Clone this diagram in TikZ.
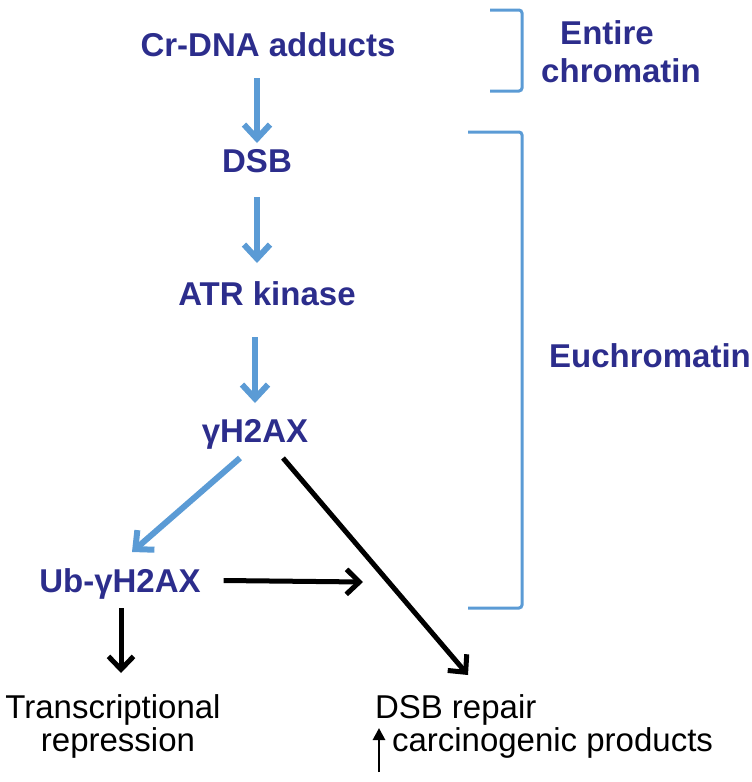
\documentclass[tikz,border=0pt]{standalone}
\usepackage{fontspec}
\setmainfont{Liberation Sans}
\usetikzlibrary{arrows.meta}
\definecolor{txtblue}{RGB}{44,45,140}
\definecolor{arrblue}{RGB}{91,155,213}
\begin{document}
\begin{tikzpicture}[x=1pt,y=-1pt,
  lbl/.style={inner sep=0pt, outer sep=0pt, text height=23pt, text depth=0pt,
    font=\bfseries\fontsize{33}{36}\selectfont, text=txtblue},
  plain/.style={inner sep=0pt, outer sep=0pt, text height=24pt, text depth=0pt,
    font=\fontsize{33}{38}\selectfont, text=black},
  bluearr/.style={draw=arrblue, line width=6pt, -{Straight Barb[length=14pt,width=26pt]}},
  blackarr/.style={draw=black, line width=5pt, -{Straight Barb[length=13pt,width=25pt]}},
  uparr/.style={draw=black, line width=2.8pt, -{Triangle[length=12pt,width=12pt]}},
  brack/.style={draw=arrblue, line width=3pt, rounded corners=3pt}]
\useasboundingbox (0,0) rectangle (752,782);

% main chain
\node[lbl, anchor=base] (cr)  at (268,56)  {Cr-DNA adducts};
\node[lbl, anchor=base] (dsb) at (257,172) {DSB};
\node[lbl, anchor=base] (atr) at (267,305) {ATR kinase};
\node[lbl, anchor=base] (gh)  at (255,442) {γH2AX};
\node[lbl, anchor=base] (ub)  at (120,592) {Ub-γH2AX};

% right labels
\node[lbl, anchor=base] (ent1) at (607,44)  {Entire};
\node[lbl, anchor=base] (ent2) at (621,82)  {chromatin};
\node[lbl, anchor=base] (euc)  at (650,367) {Euchromatin};

% outcome labels
\node[plain, anchor=base] (tr1) at (113,718) {Transcriptional};
\node[plain, anchor=base] (tr2) at (118,751) {repression};
\node[plain, anchor=base west] (dsbr) at (375,718) {DSB repair};
\node[plain, anchor=base west] (carc) at (392,751) {carcinogenic products};

\coordinate (hend) at (363,582);

% blue arrows
\draw[bluearr, shorten <=22pt, shorten >=6pt] (cr.south -| dsb.north) -- (dsb.north);
\draw[bluearr, shorten <=25pt, shorten >=19pt] (dsb.south) -- (dsb.south |- atr.north);
\draw[bluearr, shorten <=32pt, shorten >=16pt] (atr.south -| gh.north) -- (gh.north);
\draw[bluearr] ([xshift=-15pt,yshift=-16pt]gh.south) -- ([xshift=12pt,yshift=17pt]ub.north);

% black arrows
\draw[blackarr] ([xshift=28pt,yshift=-16pt]gh.south) -- ([xshift=93pt,yshift=19pt]dsbr.north west);
\draw[blackarr] ([xshift=23pt]ub.east) -- (hend);
\draw[blackarr, shorten <=16pt, shorten >=21pt] ([xshift=1pt]ub.south) -- ([xshift=1pt]ub.south |- tr1.north);
\draw[uparr] ([xshift=-13pt,yshift=-21pt]carc.base west) -- ([xshift=-13pt,yshift=23pt]carc.base west);

% brackets
\draw[brack] (490,10) -- (522,10) -- (522,91) -- (490,91);
\draw[brack] (468,132) -- (522,132) -- (522,608) -- (468,608);
\end{tikzpicture}
\end{document}
